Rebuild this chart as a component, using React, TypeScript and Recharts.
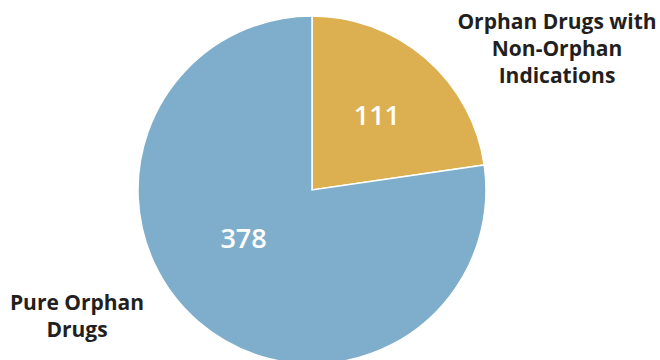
import React from 'react';
import { PieChart, Pie, Cell } from 'recharts';

const categories = ['Orphan Drugs with Non-Orphan Indications', 'Pure Orphan Drugs'];
const values = [111, 378];
const COLORS = ['#dcb050', '#7eaecb'];

// outer label lines, split as in the reference
const labelLines = [
  ['Orphan Drugs with', 'Non-Orphan', 'Indications'],
  ['Pure Orphan', 'Drugs'],
];

const data = categories.map((name, i) => ({ name, value: values[i] }));

const RAD = Math.PI / 180;
const FONT = '"Open Sans", sans-serif';

const renderLabel = (props: any) => {
  const { cx, cy, outerRadius, midAngle, index, value } = props;
  // inner value placement (angle, fraction of radius)
  const angle = index === 0 ? midAngle : 215;
  const r = outerRadius * (index === 0 ? 0.57 : 0.48);
  const x = cx + r * Math.cos(-angle * RAD);
  const y = cy + r * Math.sin(-angle * RAD);
  const lines = labelLines[index];
  const ox = index === 0 ? cx + 245 : cx - 235;
  const oy = index === 0 ? cy - 169 : cy + 112;
  return (
    <g>
      <text x={x} y={y} fill="#ffffff" fontSize={27} fontWeight={600} fontFamily={FONT}
        textAnchor="middle" dominantBaseline="central">
        {value}
      </text>
      <text x={ox} y={oy} fill="#231f20" fontSize={21} fontWeight={700} fontFamily={FONT}
        textAnchor="middle" dominantBaseline="central">
        {lines.map((l, i) => (
          <tspan key={i} x={ox} dy={i === 0 ? 0 : 27}>{l}</tspan>
        ))}
      </text>
    </g>
  );
};

export default function App() {
  return (
    <div style={{ position: 'absolute', left: 0, top: 0, width: 660, height: 360, background: '#fff' }}>
      <PieChart width={660} height={360} margin={{ top: 0, right: 0, bottom: 0, left: 0 }}>
        <Pie
          data={data}
          dataKey="value"
          nameKey="name"
          cx={312}
          cy={190}
          outerRadius={174}
          startAngle={90}
          endAngle={-270}
          stroke="#ffffff"
          strokeWidth={1.5}
          label={renderLabel}
          labelLine={false}
          isAnimationActive={false}
        >
          {data.map((_d, i) => (
            <Cell key={`cell-${i}`} fill={COLORS[i]} />
          ))}
        </Pie>
      </PieChart>
    </div>
  );
}
